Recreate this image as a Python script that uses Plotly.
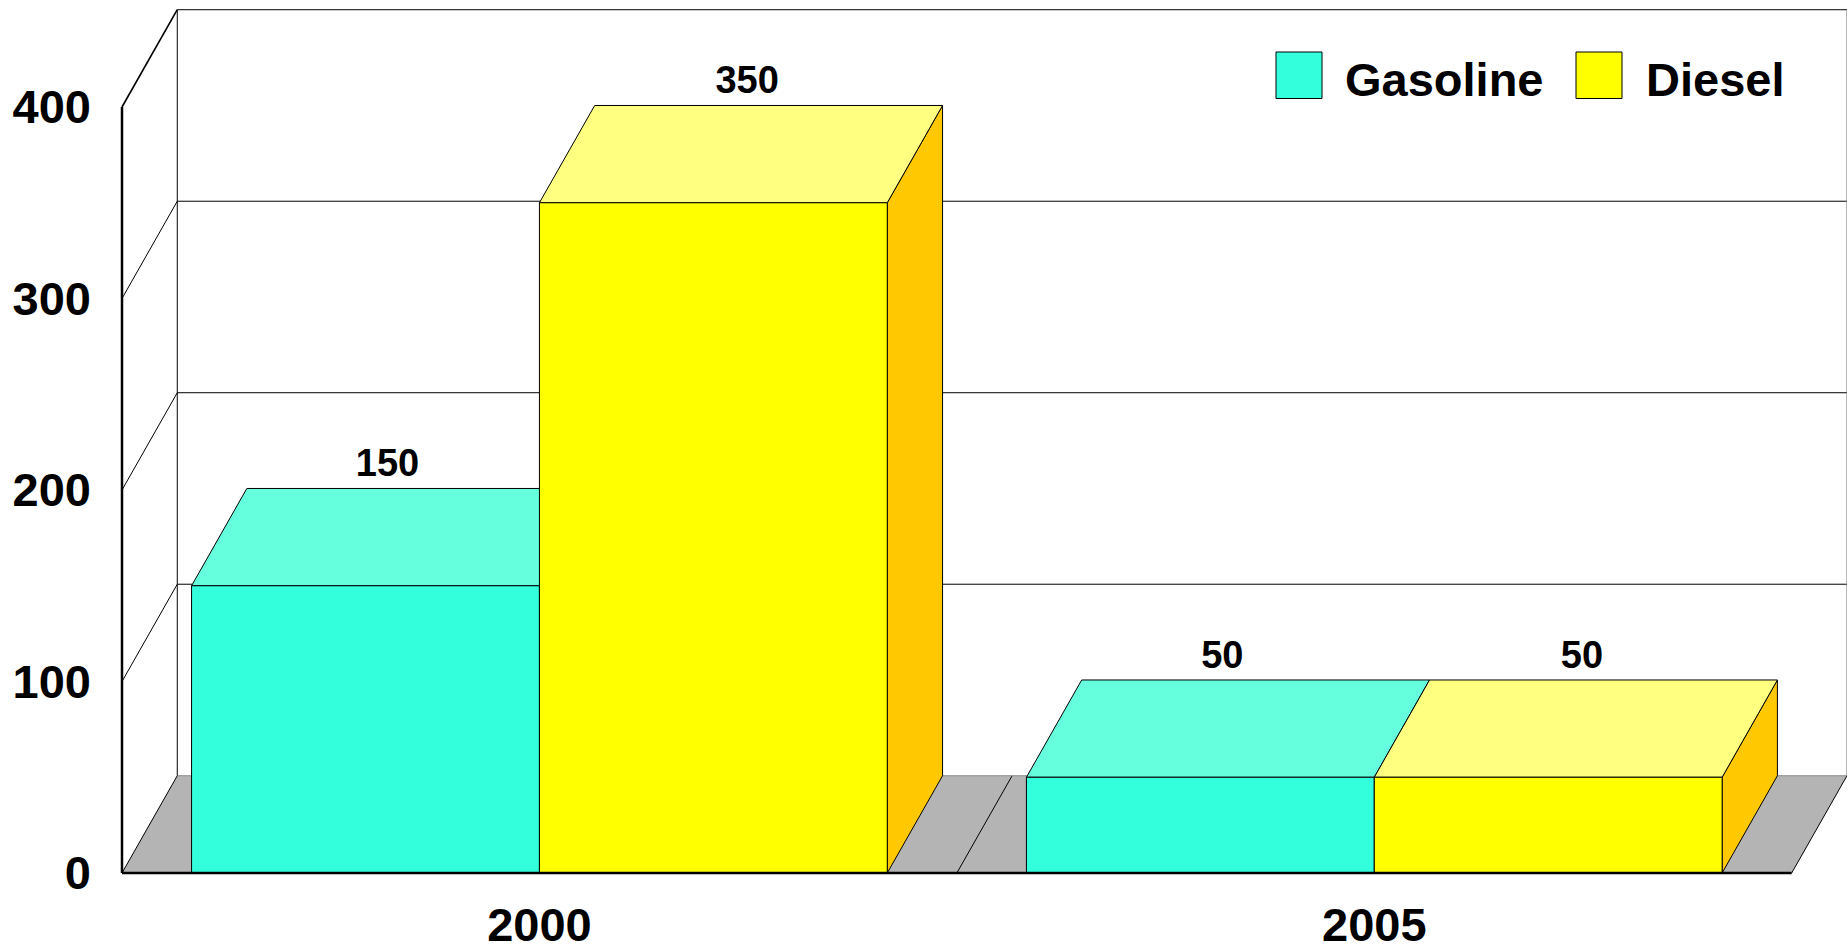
import plotly.graph_objects as go

# Chart data
categories = ["2000", "2005"]
gasoline = [150, 50]
diesel = [350, 50]
y_ticks = [0, 100, 200, 300, 400]

# Pseudo-3D geometry, in axis units
BAR_WIDTH = 5 / 12
BAR_MARGIN = 1 / 12
DEPTH_X = 0.0662
DEPTH_Y = 50.8
UNIT_X = 834.85   # pixels per category
UNIT_Y = 1.915    # pixels per value unit
ORIGIN_PX = 122
ORIGIN_PY = 873
AXIS_PAD = 10     # room kept left of and below the origin so heavy axis lines are not cut
FONT = "Liberation Sans"
LABEL_LIFT = 1.5

PAGE_W, PAGE_H = 1847, 944
PLOT_LEFT = ORIGIN_PX - AXIS_PAD
PLOT_BOTTOM = ORIGIN_PY + AXIS_PAD

FACES = {
    "Gasoline": {"values": gasoline, "front": "#33FFDD", "top": "#66FFDD", "side": "#29CCB1",
                 "slot": 0, "label_dx": 0.0264, "swatch": 1276, "text": 1346},
    "Diesel": {"values": diesel, "front": "#FFFF00", "top": "#FFFF80", "side": "#FFC800",
               "slot": 1, "label_dx": 0.0405, "swatch": 1576, "text": 1647},
}

fig = go.Figure()


def polygons(rings, fill, name):
    """Add closed, outlined polygons as one filled trace."""
    xs, ys = [], []
    for ring in rings:
        xs += [p[0] for p in ring] + [ring[0][0], None]
        ys += [p[1] for p in ring] + [ring[0][1], None]
    fig.add_trace(go.Scatter(x=xs, y=ys, mode="lines", fill="toself", fillcolor=fill,
                             line=dict(color="#000000", width=1), name=name,
                             hoverinfo="skip", showlegend=False))


def lines(segments, width=1, color="#000000"):
    """Add unfilled line segments as one trace."""
    xs, ys = [], []
    for a, b in segments:
        xs += [a[0], b[0], None]
        ys += [a[1], b[1], None]
    fig.add_trace(go.Scatter(x=xs, y=ys, mode="lines", line=dict(color=color, width=width),
                             hoverinfo="skip", showlegend=False))


n = len(categories)

# Floor: the slanted edges are inked, the back edge only faintly
fig.add_trace(go.Scatter(
    x=[0, n, n + DEPTH_X, DEPTH_X, 0], y=[0, 0, DEPTH_Y, DEPTH_Y, 0],
    mode="lines", fill="toself", fillcolor="#B4B4B4", line=dict(width=0),
    hoverinfo="skip", showlegend=False))
lines([((i, 0), (i + DEPTH_X, DEPTH_Y)) for i in range(n + 1)])
lines([((DEPTH_X, DEPTH_Y), (n + DEPTH_X, DEPTH_Y))], color="#8C8C8C")

# Back wall, gridlines and side wall
top_tick = y_ticks[-1]
lines([((DEPTH_X, t + DEPTH_Y), (n + DEPTH_X, t + DEPTH_Y)) for t in y_ticks[1:]])
lines([((DEPTH_X, t + DEPTH_Y), (0, t)) for t in y_ticks[1:-1]])
lines([((DEPTH_X, top_tick + DEPTH_Y), (0, top_tick))], width=1.6)
lines([((DEPTH_X, DEPTH_Y), (DEPTH_X, top_tick + DEPTH_Y))])
lines([((n + DEPTH_X, DEPTH_Y), (n + DEPTH_X, top_tick + DEPTH_Y))], color="#777777")

# Bars: each series is a front, top and side face
for name, s in FACES.items():
    front, top, side = [], [], []
    for i, v in enumerate(s["values"]):
        x0 = i + BAR_MARGIN + s["slot"] * BAR_WIDTH
        x1 = x0 + BAR_WIDTH
        front.append([(x0, 0), (x1, 0), (x1, v), (x0, v)])
        top.append([(x0, v), (x1, v), (x1 + DEPTH_X, v + DEPTH_Y), (x0 + DEPTH_X, v + DEPTH_Y)])
        side.append([(x1, 0), (x1 + DEPTH_X, DEPTH_Y), (x1 + DEPTH_X, v + DEPTH_Y), (x1, v)])
    polygons(side, s["side"], name + " side")
    polygons(top, s["top"], name + " top")
    polygons(front, s["front"], name)

# Front axis lines
lines([((0, 0), (0, top_tick))], width=2.5)
lines([((0, 0), (n, 0))], width=2.5)

# Value labels above the back edge of each bar top
for name, s in FACES.items():
    fig.add_trace(go.Scatter(
        x=[i + BAR_MARGIN + (s["slot"] + 0.5) * BAR_WIDTH + s["label_dx"] for i in range(n)],
        y=[v + DEPTH_Y + LABEL_LIFT for v in s["values"]],
        mode="text", text=[str(v) for v in s["values"]], textposition="top center",
        textfont=dict(family=FONT, size=38, color="#000000", weight=700),
        hoverinfo="skip", showlegend=False, cliponaxis=False))

# Legend, laid out in page pixels and converted to paper fractions
to_px = lambda px: (px - PLOT_LEFT) / (PAGE_W - PLOT_LEFT)
to_py = lambda py: (PLOT_BOTTOM - py) / PLOT_BOTTOM
shapes, annotations = [], []
for name, s in FACES.items():
    shapes.append(dict(type="rect", xref="paper", yref="paper",
                       x0=to_px(s["swatch"]), x1=to_px(s["swatch"] + 46),
                       y0=to_py(98.5), y1=to_py(52),
                       fillcolor=s["front"], line=dict(color="#000000", width=1)))
    annotations.append(dict(xref="paper", yref="paper", x=to_px(s["text"]), y=to_py(80),
                            xanchor="left", yanchor="middle", showarrow=False, text=name,
                            xshift=-3,
                            font=dict(family=FONT, size=47, color="#000000", weight=700)))

fig.update_layout(
    width=PAGE_W, height=PAGE_H, autosize=False,
    margin=dict(l=PLOT_LEFT, r=0, t=0, b=PAGE_H - PLOT_BOTTOM, pad=0),
    paper_bgcolor="#FFFFFF", plot_bgcolor="#FFFFFF",
    showlegend=False, shapes=shapes, annotations=annotations,
    xaxis=dict(range=[-AXIS_PAD / UNIT_X, (PAGE_W - ORIGIN_PX) / UNIT_X],
               tickvals=[i + 0.5 for i in range(n)], ticktext=categories,
               showgrid=False, zeroline=False, showline=False, ticks="",
               ticklabelstandoff=10, automargin=False,
               tickfont=dict(family=FONT, size=47, color="#000000", weight=700)),
    yaxis=dict(range=[-AXIS_PAD / UNIT_Y, ORIGIN_PY / UNIT_Y],
               tickvals=y_ticks, ticktext=[str(t) for t in y_ticks],
               showgrid=False, zeroline=False, showline=False, ticks="",
               ticklabelstandoff=20, automargin=False,
               tickfont=dict(family=FONT, size=47, color="#000000", weight=700)),
)

fig.write_html("out.html")
